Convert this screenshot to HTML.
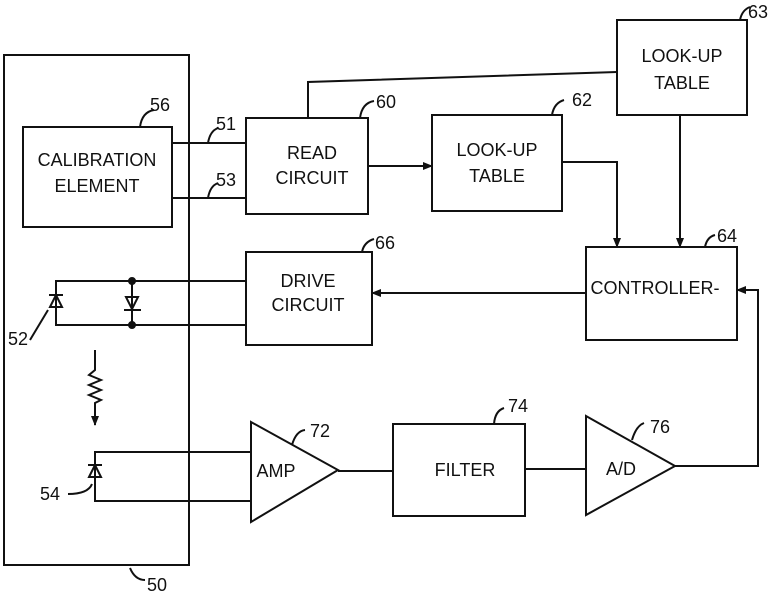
<!DOCTYPE html>
<html><head><style>html,body{margin:0;padding:0;background:#fff}svg{display:block}text{font-family:"Liberation Sans Narrow","Liberation Sans",sans-serif;font-size:18px;fill:#111;text-anchor:middle}</style></head>
<body>
<svg width="768" height="595" viewBox="0 0 768 595" xmlns="http://www.w3.org/2000/svg" stroke="#111" stroke-width="2" fill="none">
<defs><marker id="a" markerWidth="10" markerHeight="10" refX="9" refY="5" orient="auto" markerUnits="userSpaceOnUse"><path d="M0,1 L10,5 L0,9z" fill="#111" stroke="none"/></marker></defs>
<rect x="4" y="55" width="185" height="510"/>
<path d="M130,568 q5,12 15,12"/>
<rect x="23" y="127" width="149" height="100"/>
<path d="M140,127 q2,-15 14,-17"/>
<path d="M172,143 H246 M172,198 H246"/>
<path d="M208,143 q2,-12 10,-15 M208,198 q2,-12 10,-15"/>
<rect x="246" y="118" width="122" height="96"/>
<path d="M360,118 q2,-15 14,-17"/>
<path d="M368,166 H432" marker-end="url(#a)"/>
<rect x="432" y="115" width="130" height="96"/>
<path d="M552,115 q2,-12 12,-15"/>
<path d="M562,162 H617 V247" marker-end="url(#a)"/>
<rect x="617" y="20" width="130" height="95"/>
<path d="M740,20 q2,-10 10,-13"/>
<path d="M308,118 V82 L617,72"/>
<path d="M680,115 V247" marker-end="url(#a)"/>
<rect x="586" y="247" width="151" height="93"/>
<path d="M705,247 q2,-10 10,-12"/>
<path d="M586,293 H372" marker-end="url(#a)"/>
<rect x="246" y="252" width="126" height="93"/>
<path d="M362,252 q2,-10 12,-13"/>
<path d="M246,281 H56 V325 H246"/>
<path d="M132,281 V325"/>
<circle cx="132" cy="281" r="3" fill="#111"/><circle cx="132" cy="325" r="3" fill="#111"/>
<path d="M50,307 L56,295 L62,307 Z M49,295 H63"/>
<path d="M126,297 L132,309 L138,297 Z M124,310 H141"/>
<path d="M48,310 L30,340" stroke-width="2"/>
<path d="M95,350 V370 l-6,5 l12,5 l-12,5 l12,5 l-12,5 l12,5 l-6,3 V425" marker-end="url(#a)"/>
<path d="M251,452 H95 V501 H251"/>
<path d="M89,477 L95,465 L101,477 Z M88,465 H102"/>
<path d="M68,494 q20,0 24,-10"/>
<path d="M251,422 L338,470 L251,522 Z"/>
<path d="M292,445 q4,-14 13,-15"/>
<path d="M338,471 H393"/>
<rect x="393" y="424" width="132" height="92"/>
<path d="M494,424 q1,-13 10,-16"/>
<path d="M525,469 H586"/>
<path d="M586,416 L675,466 L586,515 Z"/>
<path d="M632,440 q4,-14 12,-17"/>
<path d="M675,466 H758 V290 H737" marker-end="url(#a)"/>
<g stroke="none">
<text x="97" y="166">CALIBRATION</text><text x="97" y="192">ELEMENT</text>
<text x="160" y="111">56</text>
<text x="226" y="130">51</text><text x="226" y="186">53</text>
<text x="312" y="159">READ</text><text x="312" y="184">CIRCUIT</text>
<text x="386" y="108">60</text>
<text x="497" y="156">LOOK-UP</text><text x="497" y="182">TABLE</text>
<text x="582" y="106">62</text>
<text x="682" y="62">LOOK-UP</text><text x="682" y="89">TABLE</text>
<text x="758" y="18">63</text>
<text x="655" y="294">CONTROLLER-</text>
<text x="727" y="242">64</text>
<text x="308" y="287">DRIVE</text><text x="308" y="311">CIRCUIT</text>
<text x="385" y="249">66</text>
<text x="18" y="345">52</text>
<text x="50" y="500">54</text>
<text x="276" y="477">AMP</text>
<text x="320" y="437">72</text>
<text x="465" y="476">FILTER</text>
<text x="518" y="412">74</text>
<text x="621" y="475">A/D</text>
<text x="660" y="433">76</text>
<text x="157" y="591">50</text>
</g>
</svg>
</body></html>
